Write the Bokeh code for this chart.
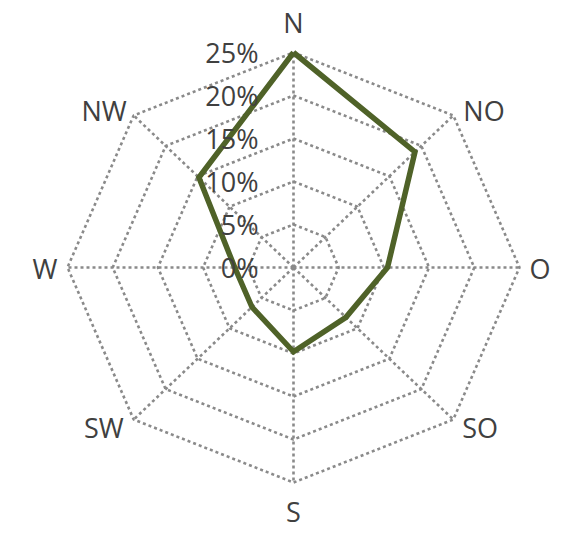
import math
from bokeh.plotting import figure
from bokeh.models import Range1d
from bokeh.core.properties import value
from bokeh.embed import file_html
from bokeh.resources import INLINE

# ---- data ----
directions = ["N", "NO", "O", "SO", "S", "SW", "W", "NW"]
shares = [25.0, 19.0, 10.4, 8.2, 9.8, 6.5, 6.5, 14.8]
ring_levels = [0, 5, 10, 15, 20, 25]
ring_labels = ["0%", "5%", "10%", "15%", "20%", "25%"]

# ---- layout ----
W, H = 554, 531
cx_px, cy_px = 293, 267          # centre inside the canvas
px_x = 226 / 25.0                # pixels per % horizontally
px_y = 215 / 25.0                # pixels per % vertically
rmax = ring_levels[-1]

p = figure(width=W, height=H, output_backend="svg", toolbar_location=None,
           x_range=Range1d(-cx_px / px_x, (W - cx_px) / px_x),
           y_range=Range1d(-(H - cy_px) / px_y, cy_px / px_y),
           min_border=0, background_fill_color="white", border_fill_color="white")
p.axis.visible = False
p.grid.visible = False
p.outline_line_color = None

n = len(directions)
angles = [math.pi / 2 - 2 * math.pi * i / n for i in range(n)]

grid_color = "#8a8a8a"
for a in angles:
    p.line([0, rmax * math.cos(a)], [0, rmax * math.sin(a)], line_color=grid_color,
           line_width=2.6, line_dash="3 3")
for lv in ring_levels[1:]:
    xs = [lv * math.cos(a) for a in angles] + [lv * math.cos(angles[0])]
    ys = [lv * math.sin(a) for a in angles] + [lv * math.sin(angles[0])]
    p.line(xs, ys, line_color=grid_color, line_width=2.6, line_dash="3 3")

dx = [v * math.cos(a) for v, a in zip(shares, angles)]
dy = [v * math.sin(a) for v, a in zip(shares, angles)]
p.line(dx + [dx[0]], dy + [dy[0]], line_color="#4F6228", line_width=5.5,
       line_join="miter")

font = value("Open Sans")
txt_color = "#404040"
fs = "27px"

p.text(x=[0] * len(ring_levels), y=ring_levels, text=ring_labels,
       x_offset=-35, text_align="right", text_baseline="middle",
       text_font=font, text_font_size=fs, text_color=txt_color)

offs = {
    "N": (0, -30, "center"), "NO": (10, -5, "left"), "O": (10, 1, "left"),
    "SO": (9, 8, "left"), "S": (0, 29, "center"), "SW": (-10, 8, "right"),
    "W": (-10, 1, "right"), "NW": (-7, -5, "right"),
}
for d, a in zip(directions, angles):
    ox, oy, al = offs[d]
    p.text(x=[rmax * math.cos(a)], y=[rmax * math.sin(a)], text=[d],
           x_offset=ox, y_offset=oy, text_align=al, text_baseline="middle",
           text_font=font, text_font_size=fs, text_color=txt_color)

open("out.html", "w").write(file_html(p, INLINE))
